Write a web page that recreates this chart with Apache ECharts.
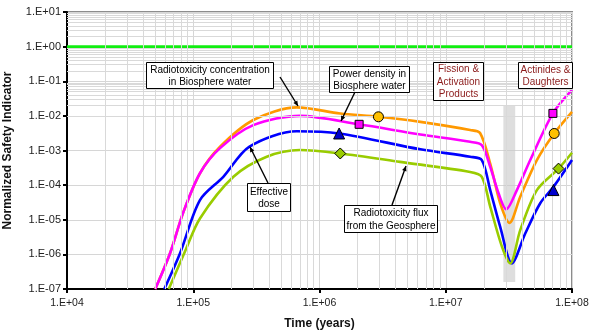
<!DOCTYPE html>
<html><head><meta charset="utf-8">
<script src="https://cdn.jsdelivr.net/npm/echarts@6/dist/echarts.min.js"></script>
<style>html,body{margin:0;padding:0;background:#fff}#c{width:590px;height:336px}</style>
</head><body><div id="c"></div>
<script>
// ---- data ----
const xTickLabels = ['1.E+04','1.E+05','1.E+06','1.E+07','1.E+08'];
const yTickLabels = ['1.E-07','1.E-06','1.E-05','1.E-04','1.E-03','1.E-02','1.E-01','1.E+00','1.E+01'];

// Radiotoxicity concentration in Biosphere water (orange)
const radioConc = [[5.0e4,1.0e-7],[6.55e4,1.08e-6],[8.35e4,1.66e-5],[1.13e5,2.2e-4],[1.63e5,1.28e-3],[2.99e5,7.6e-3],
  [6.6e5,1.76e-2],[1.46e6,1.17e-2],[2.93e6,9.4e-3],[6.3e6,6.7e-3],[1.56e7,3.9e-3],[1.87e7,3.2e-3],
  [2.25e7,4.2e-4],[2.70e7,3.0e-5],[3.20e7,8.1e-6],[3.89e7,4.6e-5],[5.27e7,5.3e-4],[7.23e7,3.1e-3],[1.0e8,1.31e-2]];
// Power density in Biosphere water (magenta)
const powerDens = [[5.0e4,1.0e-7],[6.55e4,1.08e-6],[8.35e4,1.66e-5],[1.13e5,2.2e-4],[1.63e5,1.17e-3],[2.99e5,5.4e-3],
  [7.0e5,1.0e-2],[2.06e6,5.7e-3],[6.3e6,2.9e-3],[1.56e7,1.78e-3],[1.93e7,1.43e-3],[2.25e7,3.4e-4],
  [2.62e7,5.8e-5],[3.01e7,2.0e-5],[3.66e7,7.2e-5],[4.67e7,5.3e-4],[7.06e7,1.18e-2],[1.0e8,5.6e-2]];
// Effective dose (blue)
const effDose = [[5.9e4,1.0e-7],[7.86e4,1.08e-6],[1.13e5,3.7e-5],[1.73e5,1.74e-4],[2.77e5,1.28e-3],[6.6e5,3.6e-3],
  [1.43e6,3.1e-3],[6.3e6,1.08e-3],[1.56e7,6.6e-4],[1.93e7,5.3e-4],[2.25e7,7.2e-5],[2.70e7,6.2e-6],
  [3.34e7,5.5e-7],[4.26e7,4.0e-6],[5.6e7,3.0e-5],[7.13e7,8.9e-5],[1.0e8,5.3e-4]];
// Radiotoxicity flux from the Geosphere (green)
const radioFlux = [[6.4e4,1.0e-7],[8.6e4,1.21e-6],[1.13e5,1.09e-5],[2.08e5,1.74e-4],[3.82e5,6.6e-4],[7.0e5,1.03e-3],
  [1.46e6,8.2e-4],[4.35e6,4.7e-4],[1.56e7,2.4e-4],[1.93e7,1.74e-4],[2.25e7,2.4e-5],[2.79e7,1.65e-6],
  [3.24e7,5.5e-7],[3.89e7,5.0e-6],[5.27e7,7.2e-5],[7.82e7,3.0e-4],[1.0e8,8.6e-4]];

const concMarks = [[2.93e6,9.4e-3],[7.23e7,3.1e-3]];
const powerMarks = [[2.06e6,5.7e-3],[7.06e7,1.18e-2]];
const doseMarks = [[1.43e6,3.1e-3],[7.13e7,7.2e-5]];
const fluxMarks = [[1.46e6,8.2e-4],[7.82e7,3.0e-4]];

const limitLine = [[1e4,1],[1e8,1]];
const bandX = [2.86e7,3.55e7];
const bandY = [1.6e-7,2.0e-2];

const annotations = [
  ['Radiotoxicity concentration','in Biosphere water'],
  ['Power density in','Biosphere water'],
  ['Effective','dose'],
  ['Radiotoxicity flux','from the Geosphere'],
  ['Fission &','Activation','Products'],
  ['Actinides &','Daughters']
];

// ---- layout / style ----
const FONT = "'Liberation Sans', Arial, sans-serif";
const boxLayout = [
  {x:146,y:62,w:127,h:26,color:'#000'},
  {x:329,y:66,w:80,h:26,color:'#000'},
  {x:247,y:183,w:43,h:28,color:'#000'},
  {x:344,y:205,w:93,h:27,color:'#000'},
  {x:433,y:62,w:50,h:38,color:'#8B1A1A'},
  {x:518,y:62,w:54,h:26,color:'#8B1A1A'}
];
const arrowLayout = [[280,77,298,106],[355,92,341,121],[268,183,250,147],[392,205,406,166]];

function fmt(v){
  const e = Math.round(Math.log10(v));
  const all = xTickLabels.concat(yTickLabels);
  const tag = (e<0?'-':'+') + String(Math.abs(e)).padStart(2,'0');
  return all.find(s => s.endsWith(tag)) || ('1.E'+tag);
}

const gridMarks = [];
for (let d=4; d<8; d++) for (let k=2; k<10; k++) gridMarks.push({xAxis: k*Math.pow(10,d)});
for (let d=-7; d<1; d++) for (let k=2; k<10; k++) gridMarks.push({yAxis: k*Math.pow(10,d)});

const graphics = [];
boxLayout.forEach((b,i)=>{
  graphics.push({type:'rect', z:100, shape:{x:b.x+0.5,y:b.y+0.5,width:b.w,height:b.h},
    style:{fill:'#fff',stroke:'#000',lineWidth:1}});
  graphics.push({type:'text', z:101, x:b.x+b.w/2+0.5, y:b.y+b.h/2+1,
    style:{text:annotations[i].join('\n'), fill:b.color, fontSize:10, fontFamily:FONT, lineHeight:12.5,
      align:'center', verticalAlign:'middle', textAlign:'center', textVerticalAlign:'middle'}});
});
arrowLayout.forEach(a=>{
  const [x1,y1,x2,y2]=a;
  graphics.push({type:'line', z:100, shape:{x1,y1,x2,y2}, style:{stroke:'#000',lineWidth:1.4}});
  const ang=Math.atan2(y2-y1,x2-x1), L=5, W=2.3;
  const bx=x2-L*Math.cos(ang), by=y2-L*Math.sin(ang);
  graphics.push({type:'polygon', z:100, shape:{points:[[x2,y2],[bx+W*Math.sin(ang),by-W*Math.cos(ang)],[bx-W*Math.sin(ang),by+W*Math.cos(ang)]]},
    style:{fill:'#000'}});
});

function curve(data,color){
  return {type:'line', data, symbol:'none', smooth:0.3, clip:true, z:3,
    lineStyle:{color,width:2.6}, itemStyle:{color}};
}
function marks(data,symbol,size,color){
  return {type:'scatter', data, symbol, symbolSize:size, z:10,
    itemStyle:{color,borderColor:'#000',borderWidth:1,opacity:1}};
}

const chart = echarts.init(document.getElementById('c'), null, {renderer:'canvas'});
chart.setOption({
  animation:false,
  textStyle:{fontFamily:FONT},
  grid:{left:67,right:18,top:12,bottom:47,containLabel:false,outerBoundsMode:'none',
    show:true,borderColor:'#8c8c8c',borderWidth:2,backgroundColor:'#fff'},
  xAxis:{type:'log',logBase:10,min:1e4,max:1e8,splitNumber:4,
    name:'Time (years)',nameLocation:'middle',nameGap:29,
    nameTextStyle:{fontWeight:'bold',fontSize:12,color:'#111',fontFamily:FONT},
    axisLine:{show:true,lineStyle:{color:'#000',width:2}},
    axisTick:{show:true,length:4,lineStyle:{color:'#000',width:2}},
    axisLabel:{formatter:fmt,fontSize:10.5,color:'#222',margin:9,fontFamily:FONT},
    splitLine:{show:true,lineStyle:{color:'#d6d6d6',width:1}},
    minorTick:{show:false},minorSplitLine:{show:false}},
  yAxis:{type:'log',logBase:10,min:1e-7,max:10,splitNumber:8,
    name:'Normalized Safety Indicator',nameLocation:'middle',nameGap:53,
    nameTextStyle:{fontWeight:'bold',fontSize:12,color:'#111',fontFamily:FONT},
    axisLine:{show:true,lineStyle:{color:'#000',width:2}},
    axisTick:{show:true,length:4,lineStyle:{color:'#000',width:2}},
    axisLabel:{formatter:fmt,fontSize:11,color:'#222',margin:6,fontFamily:FONT},
    splitLine:{show:true,lineStyle:{color:'#d6d6d6',width:1}},
    minorTick:{show:false},minorSplitLine:{show:false}},
  series:[
    {type:'line',data:[],z:1,silent:true,
      markLine:{silent:true,symbol:['none','none'],label:{show:false},animation:false,
        lineStyle:{color:'#d9d9d9',width:1,type:'solid'},data:gridMarks}},
    {type:'line',data:limitLine,symbol:'none',z:2,lineStyle:{color:'#11ee11',width:3}},
    curve(radioConc,'#FF9900'),
    curve(powerDens,'#FF00FF'),
    curve(effDose,'#0000FF'),
    curve(radioFlux,'#99CC00'),
    {type:'line',data:[],z:6,silent:true,
      markArea:{silent:true,itemStyle:{color:'rgba(200,200,200,0.6)'},
        data:[[{xAxis:bandX[0],yAxis:bandY[0]},{xAxis:bandX[1],yAxis:bandY[1]}]]}},
    marks(concMarks,'circle',10,'#FFC000'),
    marks(powerMarks,'rect',8,'#FF00FF'),
    marks(doseMarks,'triangle',11,'#0000CC'),
    marks(fluxMarks,'diamond',11,'#99CC00')
  ],
  graphic:{elements:graphics}
});
</script></body></html>
